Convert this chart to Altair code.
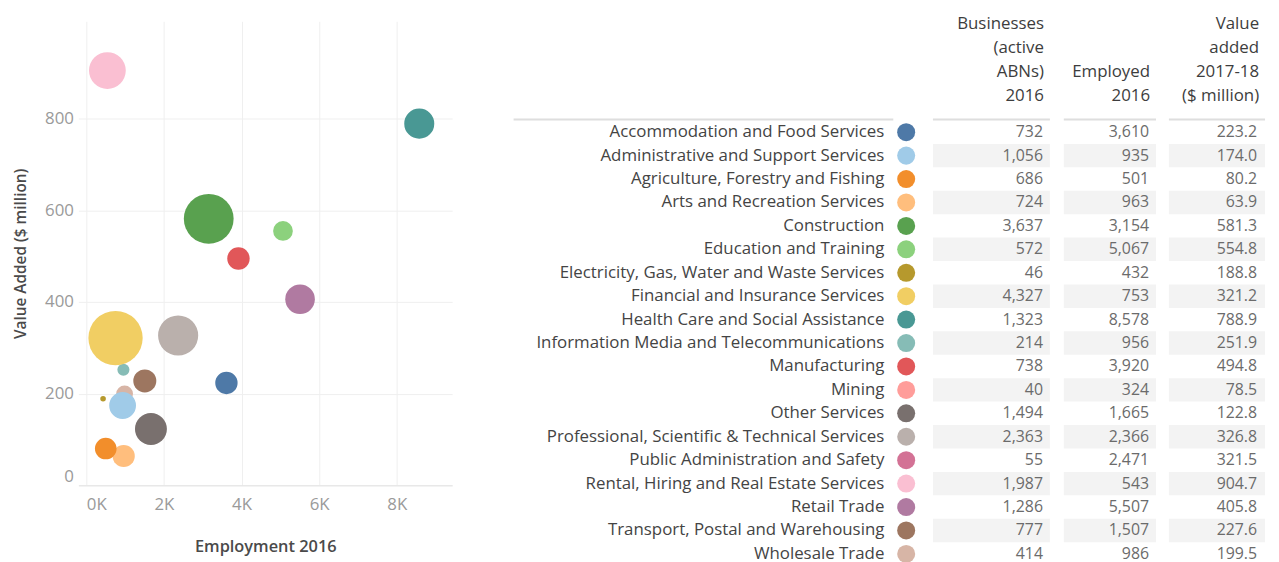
import altair as alt
import pandas as pd

FONT = "Open Sans"

industries = [
    "Accommodation and Food Services",
    "Administrative and Support Services",
    "Agriculture, Forestry and Fishing",
    "Arts and Recreation Services",
    "Construction",
    "Education and Training",
    "Electricity, Gas, Water and Waste Services",
    "Financial and Insurance Services",
    "Health Care and Social Assistance",
    "Information Media and Telecommunications",
    "Manufacturing",
    "Mining",
    "Other Services",
    "Professional, Scientific & Technical Services",
    "Public Administration and Safety",
    "Rental, Hiring and Real Estate Services",
    "Retail Trade",
    "Transport, Postal and Warehousing",
    "Wholesale Trade",
]
businesses = [732, 1056, 686, 724, 3637, 572, 46, 4327, 1323, 214, 738, 40,
              1494, 2363, 55, 1987, 1286, 777, 414]
employed = [3610, 935, 501, 963, 3154, 5067, 432, 753, 8578, 956, 3920, 324,
            1665, 2366, 2471, 543, 5507, 1507, 986]
value_added = [223.2, 174.0, 80.2, 63.9, 581.3, 554.8, 188.8, 321.2, 788.9,
               251.9, 494.8, 78.5, 122.8, 326.8, 321.5, 904.7, 405.8, 227.6, 199.5]
colors = ["#4E79A7", "#A0CBE8", "#F28E2B", "#FFBE7D", "#59A14F", "#8CD17D",
          "#B6992D", "#F1CE63", "#499894", "#86BCB6", "#E15759", "#FF9D9A",
          "#79706E", "#BAB0AC", "#D37295", "#FABFD2", "#B07AA1", "#9D7660",
          "#D7B5A6"]
x_ticks = [0, 2000, 4000, 6000, 8000]
y_ticks = [0, 200, 400, 600, 800]
header_businesses = ["Businesses", "(active", "ABNs)", "2016"]
header_employed = ["Employed", "2016"]
header_value = ["Value", "added", "2017-18", "($ million)"]

df = pd.DataFrame({
    "Industry": industries,
    "Businesses": businesses,
    "Employed": employed,
    "ValueAdded": value_added,
})
df["Shade"] = [i % 2 == 1 for i in range(len(df))]

color_scale = alt.Scale(domain=industries, range=colors)
one = alt.Data(values=[{}])

# ---------------- scatter ----------------
scatter = alt.Chart(df).mark_circle(opacity=1).encode(
    x=alt.X("Employed:Q", title="Employment 2016",
            scale=alt.Scale(domain=[-204, 9425], nice=False, zero=False),
            axis=alt.Axis(values=x_ticks, labelExpr="datum.value / 1000 + 'K'",
                          labelAlign={"condition": {"test": "datum.value === 0", "value": "left"},
                                      "value": "center"},
                          grid=True, ticks=False, domain=True, domainColor="#e4e4e4",
                          labelPadding=11, titlePadding=27, titleFontSize=16.5)),
    y=alt.Y("ValueAdded:Q", title="Value Added ($ million)",
            scale=alt.Scale(domain=[0, 1012], nice=False),
            axis=alt.Axis(values=y_ticks, labelFlush=True, domain=False, ticks=False,
                          labelPadding=5, titlePadding=16, titleFontSize=15.5)),
    size=alt.Size("Businesses:Q", scale=alt.Scale(domain=[0, 4327], range=[0, 3000]), legend=None),
    color=alt.Color("Industry:N", scale=color_scale, legend=None),
    order=alt.Order("Industry:N", sort="descending"),
).properties(width=377, height=468)

# ---------------- table ----------------
ROW_Y = alt.Y("Industry:N", sort=industries, axis=None,
              scale=alt.Scale(paddingInner=0, paddingOuter=0, range=[100, 549]))
base = alt.Chart(df).encode(y=ROW_Y)

cols = [(423, 541, 534), (555, 648, 641), (661, 758, 750)]
layers = []
for x0, x1, _ in cols:
    layers.append(base.transform_filter("datum.Shade").mark_rect(color="#f3f3f3").encode(
        x=alt.value(x0), x2=alt.value(x1)))

layers.append(base.mark_text(align="right", baseline="middle", font=FONT, fontSize=17,
                             color="#444444").encode(x=alt.value(374), text="Industry:N"))
layers.append(base.mark_circle(size=330, opacity=1).encode(
    x=alt.value(396), color=alt.Color("Industry:N", scale=color_scale, legend=None)))
layers.append(base.mark_text(align="right", baseline="middle", font=FONT, fontSize=16,
                             color="#6b6b6b").encode(
    x=alt.value(cols[0][2]), text=alt.Text("Businesses:Q", format=",")))
layers.append(base.mark_text(align="right", baseline="middle", font=FONT, fontSize=16,
                             color="#6b6b6b").encode(
    x=alt.value(cols[1][2]), text=alt.Text("Employed:Q", format=",")))
layers.append(base.mark_text(align="right", baseline="middle", font=FONT, fontSize=16,
                             color="#6b6b6b").encode(
    x=alt.value(cols[2][2]), text=alt.Text("ValueAdded:Q", format=".1f")))

# header separators
for x0, x1 in [(0, 383), (423, 541), (555, 648), (661, 758)]:
    layers.append(alt.Chart(one).mark_rule(color="#dedede", strokeWidth=2).encode(
        x=alt.value(x0), x2=alt.value(x1), y=alt.value(99)))

# headers (y of the first line)
for text, xpos, ytop in [(header_businesses, 535, 3), (header_employed, 642, 51),
                         (header_value, 752, 3)]:
    layers.append(alt.Chart(one).mark_text(align="right", baseline="middle", font=FONT,
                                            fontSize=17, lineHeight=24, color="#3d3d3d").encode(
        x=alt.value(xpos), y=alt.value(ytop), text=alt.value(text)))

table = alt.layer(*layers).properties(width=758, height=549)

chart = alt.hconcat(scatter, table, spacing=61).configure_view(strokeWidth=0).configure_axis(
    labelFont=FONT, titleFont=FONT, labelFontSize=17,
    labelColor="#9a9a9a", titleColor="#4a4a4a", titleFontWeight=600,
    gridColor="#efefef", gridWidth=1,
).properties(background="white")

chart.save("out.html", embed_options={"renderer": "svg", "actions": False})
